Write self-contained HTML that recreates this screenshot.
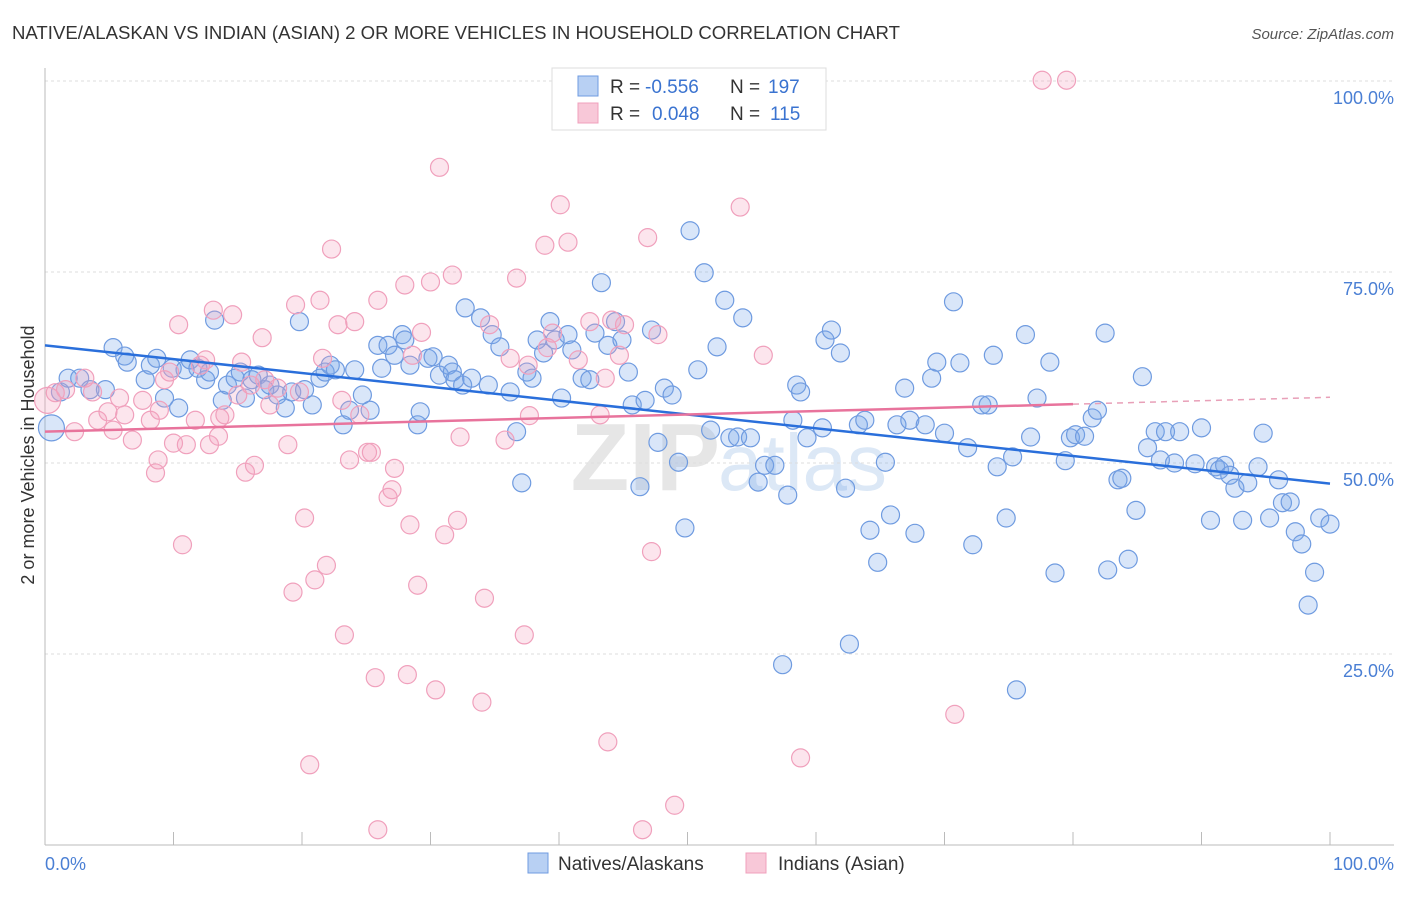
<!DOCTYPE html>
<html><head><meta charset="utf-8"><style>
body{margin:0;background:#fff;font-family:"Liberation Sans",sans-serif;}
svg text{font-family:"Liberation Sans",sans-serif;}
</style></head><body>
<svg id="chart" width="1406" height="892">
<text x="12" y="39" font-size="18" textLength="888" lengthAdjust="spacingAndGlyphs" fill="#333">NATIVE/ALASKAN VS INDIAN (ASIAN) 2 OR MORE VEHICLES IN HOUSEHOLD CORRELATION CHART</text>
<text x="1394" y="39" font-size="15" fill="#555" font-style="italic" text-anchor="end">Source: ZipAtlas.com</text>
<text x="720" y="490" font-size="96" fill="#e6e6e6" text-anchor="end" font-family="Liberation Serif" font-weight="bold">ZIP</text>
<text x="718" y="490" font-size="80" fill="#dce8f6">atlas</text>
<g id="grid"></g><g id="axes"></g><g id="pts"></g><g id="trend"></g>
<text transform="translate(34,455) rotate(-90)" font-size="18" fill="#333" text-anchor="middle">2 or more Vehicles in Household</text>
<text x="45" y="870" font-size="18" fill="#4a7fd4">0.0%</text>
<text x="1394" y="870" font-size="18" fill="#4a7fd4" text-anchor="end">100.0%</text>
<g>
<rect x="552" y="68" width="274" height="62" fill="#fff" stroke="#ddd"/>
<rect x="578" y="76" width="20" height="20" fill="#b8d0f3" stroke="#6f9be0"/>
<text x="610" y="93" font-size="19" fill="#333">R =</text>
<text x="645" y="93" font-size="19" fill="#3a73d0">-0.556</text>
<text x="730" y="93" font-size="19" fill="#333">N =</text>
<text x="768" y="93" font-size="19" fill="#3a73d0">197</text>
<rect x="578" y="103" width="20" height="20" fill="#f8c8d8" stroke="#f0a0bc"/>
<text x="610" y="120" font-size="19" fill="#333">R =</text>
<text x="652" y="120" font-size="19" fill="#3a73d0">0.048</text>
<text x="730" y="120" font-size="19" fill="#333">N =</text>
<text x="770" y="120" font-size="19" fill="#3a73d0">115</text>
</g>
<g>
<rect x="528" y="853" width="20" height="20" fill="#b8d0f3" stroke="#6f9be0"/>
<text x="558" y="870" font-size="19" fill="#333">Natives/Alaskans</text>
<rect x="746" y="853" width="20" height="20" fill="#f8c8d8" stroke="#f0a0bc"/>
<text x="778" y="870" font-size="19" fill="#333">Indians (Asian)</text>
</g>
</svg>
<script>
const yTicks=[25,50,75,100];
const yTickLabels=["25.0%","50.0%","75.0%","100.0%"];
const xTicks=[0,10,20,30,40,50,60,70,80,90,100];
const blueX=[0.5,1.2,1.8,2.7,3.5,4.7,5.3,6.2,6.4,7.8,8.2,8.7,9.3,9.9,10.4,10.9,11.3,11.9,12.5,12.8,13.2,13.8,14.2,14.8,15.2,15.6,16.1,16.6,17.1,17.5,18.1,18.7,19.2,19.8,20.2,20.8,21.4,21.8,22.2,22.6,23.2,23.7,24.1,24.7,25.3,25.9,26.2,26.7,27.2,27.8,28.0,28.4,29.0,29.2,29.8,30.2,30.7,31.4,31.7,31.9,32.5,32.7,33.2,33.9,34.5,34.8,35.4,36.2,36.7,37.1,37.5,37.9,38.3,38.8,39.3,39.7,40.2,40.7,41.0,41.8,42.4,42.8,43.3,43.8,44.4,44.9,45.4,45.7,46.3,46.7,47.2,47.7,48.2,48.8,49.3,49.8,50.2,50.8,51.3,51.8,52.3,52.9,53.3,53.9,54.3,54.9,55.5,56.0,56.8,57.4,57.8,58.2,58.5,58.8,59.3,60.5,60.7,61.2,61.9,62.3,62.6,63.3,63.8,64.2,64.8,65.4,65.8,66.3,66.9,67.3,67.7,68.5,69.0,69.4,70.0,70.7,71.2,71.8,72.2,72.9,73.4,73.8,74.1,74.8,75.3,75.6,76.3,76.7,77.2,78.2,78.6,79.4,79.8,80.2,80.9,81.5,81.9,82.5,82.7,83.5,83.8,84.3,84.9,85.4,85.8,86.4,86.8,87.2,87.9,88.3,89.5,90.0,90.7,91.1,91.4,91.8,92.2,92.6,93.2,93.6,94.4,94.8,95.3,96.0,96.3,96.9,97.3,97.8,98.3,98.8,99.2,100];
const blueY=[54.6,59.3,61.1,61.1,59.6,59.6,65.1,64.0,63.2,60.9,62.8,63.7,58.5,62.4,57.2,62.2,63.5,62.4,60.9,61.9,68.7,58.2,60.2,61.1,61.9,58.5,60.9,61.5,59.6,60.2,58.9,57.2,59.3,68.5,59.6,57.6,61.1,61.9,62.8,62.2,55.0,56.9,62.2,58.9,56.9,65.4,62.4,65.4,64.1,66.8,66.1,62.8,55.0,56.7,63.7,63.9,61.5,62.8,61.9,60.9,60.2,70.3,61.1,69.0,60.2,66.8,65.2,59.3,54.1,47.4,61.9,61.1,66.1,64.4,68.5,66.1,58.5,66.8,64.8,61.1,60.9,67.0,73.6,65.4,68.5,66.1,61.9,57.6,46.9,58.2,67.4,52.7,59.8,58.9,50.1,41.5,80.4,62.2,74.9,54.3,65.2,71.3,53.3,53.4,69.0,53.3,47.5,49.7,49.7,23.6,45.8,55.6,60.2,59.3,53.3,54.6,66.1,67.4,64.4,46.7,26.3,55.0,55.6,41.2,37.0,50.1,43.2,55.0,59.8,55.6,40.8,55.0,61.1,63.2,53.9,71.1,63.1,52.0,39.3,57.6,57.6,64.1,49.5,42.8,50.8,20.3,66.8,53.4,58.5,63.2,35.6,50.3,53.3,53.7,53.5,55.9,56.9,67.0,36.0,47.8,48.0,37.4,43.8,61.3,52.0,54.1,50.4,54.1,50.0,54.1,49.9,54.6,42.5,49.5,49.1,49.7,48.4,46.7,42.5,47.4,49.5,53.9,42.8,47.8,44.8,44.9,41.0,39.4,31.4,35.7,42.8,42.0];
const pinkX=[0.2,0.8,1.6,2.3,3.1,3.7,4.1,4.9,5.3,5.8,6.2,6.8,7.6,8.2,8.6,8.8,8.9,9.3,9.7,10.0,10.4,10.7,11.0,11.7,12.1,12.5,12.8,13.1,13.5,13.6,14.0,14.6,15.0,15.3,15.6,16.0,16.3,16.9,17.1,17.5,18.1,18.9,19.3,19.5,19.8,20.2,20.6,21.0,21.4,21.6,21.9,22.3,22.8,23.1,23.3,23.7,24.1,24.5,25.1,25.4,25.7,25.9,26.7,27.0,27.2,28.0,28.2,28.4,28.6,29.0,29.3,30.0,30.4,30.7,31.1,31.7,32.1,32.3,34.0,34.2,34.6,35.8,36.2,36.7,37.3,37.6,37.7,38.9,39.1,39.5,40.1,40.7,41.5,42.4,43.2,43.6,43.8,44.1,44.7,45.1,46.1,46.5,46.9,47.2,47.7,49.0,54.1,55.9,58.8,70.8,77.6,79.5,25.9];
const pinkY=[58.2,59.2,59.6,54.1,61.1,59.3,55.6,56.7,54.3,58.5,56.3,53.0,58.2,55.6,48.7,50.4,56.9,60.9,61.9,52.6,68.1,39.3,52.4,55.6,62.8,63.5,52.4,70.0,53.5,55.9,56.3,69.4,58.9,63.2,48.8,60.2,49.7,66.4,60.9,57.6,59.8,52.4,33.1,70.7,59.3,42.8,10.5,34.7,71.3,63.7,36.6,78.0,68.1,58.2,27.5,50.4,68.5,56.3,51.4,51.4,21.9,71.3,45.5,46.5,49.3,73.3,22.3,41.9,64.1,34.0,67.1,73.7,20.3,88.7,40.6,74.6,42.5,53.4,18.7,32.3,68.1,53.0,63.7,74.2,27.5,62.8,56.2,78.5,65.1,67.0,83.8,78.9,63.5,68.5,56.3,61.1,13.5,68.7,64.1,68.1,96.2,2.0,79.5,38.4,66.8,5.2,83.5,64.1,11.4,17.1,100.1,100.1,2.0];
const blueTrend=[65.4,47.3];
const pinkTrend=[54.1,58.6];
const pinkSolidEnd=80;

const NS="http://www.w3.org/2000/svg";
const X=v=>45+v*12.85, Y=v=>845-v*7.64;
function mk(tag,attrs,parent){const e=document.createElementNS(NS,tag);for(const k in attrs)e.setAttribute(k,attrs[k]);parent.appendChild(e);return e;}
const grid=document.getElementById('grid'),axes=document.getElementById('axes'),pts=document.getElementById('pts'),tr=document.getElementById('trend');
yTicks.forEach((t,i)=>{
 const l=mk('line',{x1:45,x2:1394,y1:Y(t),y2:Y(t),stroke:'#ddd','stroke-dasharray':'3,3'},grid);
 
 
 const tx=mk('text',{x:1394,y:Y(t)+23,'font-size':18,fill:'#4a7fd4','text-anchor':'end'},grid);
 tx.textContent=yTickLabels[i];
 
 
});
const ax=mk('line',{x1:45,x2:1394,y1:845,y2:845,stroke:'#bbb'},axes);


const ay=mk('line',{x1:45,x2:45,y1:68,y2:845,stroke:'#bbb'},axes);


xTicks.forEach(t=>{
 const l=mk('line',{x1:X(t),x2:X(t),y1:845,y2:832,stroke:'#bbb'},axes);
 
 
});
blueX.forEach((x,i)=>{
 const c=mk('circle',{cx:X(x),cy:Y(blueY[i]),r:i===0?13:9,fill:'rgba(120,165,235,0.28)',stroke:'#6f9be0','stroke-width':1.2},pts);
 
 
});
pinkX.forEach((x,i)=>{
 const c=mk('circle',{cx:X(x),cy:Y(pinkY[i]),r:i===0?13:9,fill:'rgba(245,160,190,0.28)',stroke:'#f0a0bc','stroke-width':1.2},pts);
 
 
});
const b=mk('line',{x1:X(0),y1:Y(blueTrend[0]),x2:X(100),y2:Y(blueTrend[1]),stroke:'#2a6fdb','stroke-width':2.5},tr);


const pm=pinkTrend[0]+(pinkTrend[1]-pinkTrend[0])*pinkSolidEnd/100;
const p=mk('line',{x1:X(0),y1:Y(pinkTrend[0]),x2:X(pinkSolidEnd),y2:Y(pm),stroke:'#e8739c','stroke-width':2.5},tr);


const pd=mk('line',{x1:X(pinkSolidEnd),y1:Y(pm),x2:X(100),y2:Y(pinkTrend[1]),stroke:'#e8a0b8','stroke-width':1.5,'stroke-dasharray':'6,5'},tr);


</script>
</body></html>
